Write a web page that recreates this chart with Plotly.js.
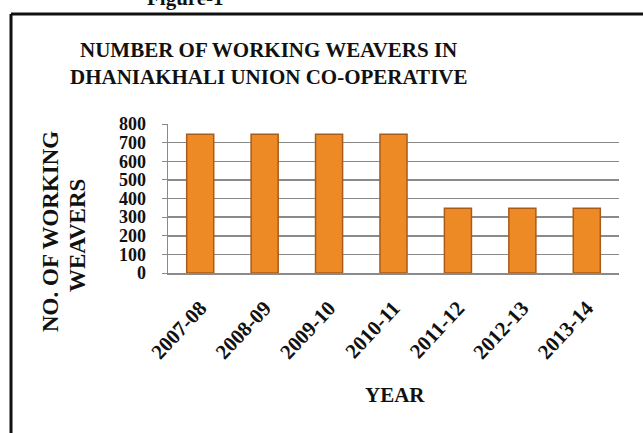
<!DOCTYPE html>
<html>
<head>
<meta charset="utf-8">
<script src="https://cdn.plot.ly/plotly-3.0.1.min.js"></script>
<style>html,body{margin:0;padding:0;background:#fff;}#chart{width:643px;height:433px;}</style>
</head>
<body>
<div id="chart"></div>
<script>
var years = ["2007-08","2008-09","2009-10","2010-11","2011-12","2012-13","2013-14"];
var weavers = [745, 745, 745, 745, 347, 347, 347];
var yTicks = [0,100,200,300,400,500,600,700,800];

var W = 643, H = 433;
var mL = 168, mR = 24, mT = 124, mB = 160;
var pw = W - mL - mR, ph = H - mT - mB;
function px(x){ return (x - mL) / pw; }
function py(y){ return (H - mB - y) / ph; }

var serif = "Liberation Serif";

var trace = {
  type: "bar",
  x: years,
  y: weavers,
  marker: {color: "#EE8A26", line: {color: "#A95C1A", width: 1.5}},
  hoverinfo: "x+y"
};

var layout = {
  width: W, height: H,
  margin: {l: mL, r: mR, t: mT, b: mB, pad: 0},
  paper_bgcolor: "#ffffff",
  plot_bgcolor: "#ffffff",
  showlegend: false,
  bargap: 0.58,
  font: {family: serif, color: "#111"},
  xaxis: {
    type: "category",
    tickangle: -47,
    tickfont: {family: serif, size: 21, color: "#111", weight: "bold"},
    showline: true, linecolor: "#8a8a8a", linewidth: 1.5,
    ticks: "", showgrid: false,
    ticklabelstandoff: 13
  },
  yaxis: {
    range: [0, 800],
    tickvals: yTicks,
    ticktext: yTicks.map(String),
    tickfont: {family: serif, size: 18, color: "#111", weight: "bold"},
    showline: true, linecolor: "#8a8a8a", linewidth: 1.5,
    ticks: "outside", ticklen: 5, tickcolor: "#8a8a8a",
    showgrid: true, gridcolor: "#8a8a8a", gridwidth: 1.5,
    zeroline: false,
    ticklabelstandoff: 12
  },
  annotations: [
    {text: "<b>NUMBER OF WORKING WEAVERS IN</b>", xref: "paper", yref: "paper",
     x: px(268), y: py(50), xanchor: "center", yanchor: "middle", showarrow: false,
     font: {family: serif, size: 21, color: "#111"}},
    {text: "<b>DHANIAKHALI UNION CO-OPERATIVE</b>", xref: "paper", yref: "paper",
     x: px(268), y: py(77), xanchor: "center", yanchor: "middle", showarrow: false,
     font: {family: serif, size: 21, color: "#111"}},
    {text: "<b>NO. OF WORKING</b>", textangle: -90,
     xref: "paper", yref: "paper", x: px(50), y: py(232),
     xanchor: "center", yanchor: "middle", showarrow: false,
     font: {family: serif, size: 23, color: "#111"}},
    {text: "<b>WEAVERS</b>", textangle: -90,
     xref: "paper", yref: "paper", x: px(77), y: py(236),
     xanchor: "center", yanchor: "middle", showarrow: false,
     font: {family: serif, size: 23, color: "#111"}},
    {text: "<b>YEAR</b>", xref: "paper", yref: "paper",
     x: px(395), y: py(395), xanchor: "center", yanchor: "middle",
     showarrow: false, font: {family: serif, size: 21, color: "#111"}},
    {text: "<b>Figure-1</b>", xref: "paper", yref: "paper",
     x: px(185), y: py(12), xanchor: "center", yanchor: "bottom",
     showarrow: false, font: {family: serif, size: 21, color: "#111"}}
  ],
  shapes: [
    {type: "line", xref: "paper", yref: "paper",
     x0: px(11), x1: px(11), y0: py(14), y1: py(460),
     line: {color: "#111", width: 3}},
    {type: "line", xref: "paper", yref: "paper",
     x0: px(11), x1: px(660), y0: py(14), y1: py(14),
     line: {color: "#111", width: 3}}
  ]
};

Plotly.newPlot("chart", [trace], layout, {displayModeBar: false, staticPlot: true});
</script>
</body>
</html>
